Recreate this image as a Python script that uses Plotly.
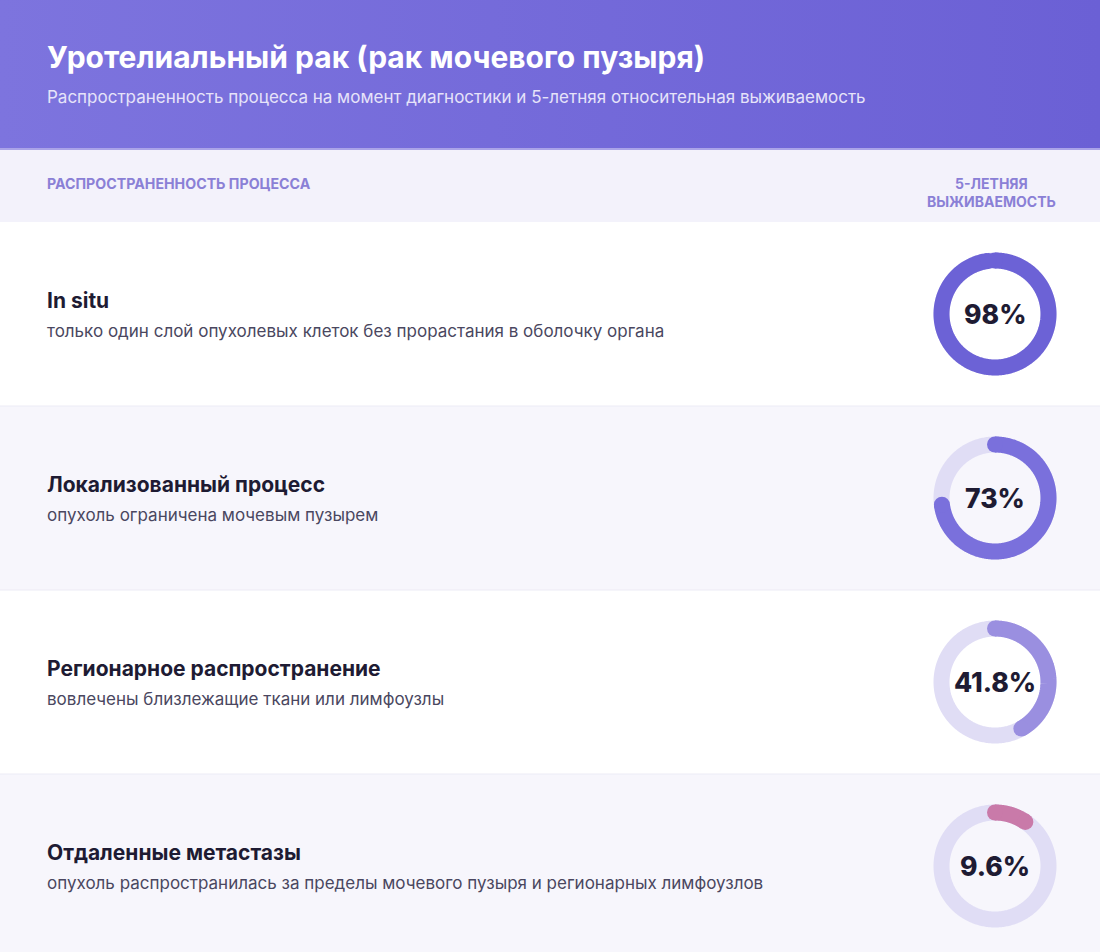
import numpy as np
import plotly.graph_objects as go

# ---- data ----
title = "Уротелиальный рак (рак мочевого пузыря)"
subtitle = "Распространенность процесса на момент диагностики и 5-летняя относительная выживаемость"
col_left = "РАСПРОСТРАНЕННОСТЬ ПРОЦЕССА"
col_right = "5-ЛЕТНЯЯ<br>ВЫЖИВАЕМОСТЬ"
stages = ["In situ", "Локализованный процесс", "Регионарное распространение", "Отдаленные метастазы"]
descriptions = [
    "только один слой опухолевых клеток без прорастания в оболочку органа",
    "опухоль ограничена мочевым пузырем",
    "вовлечены близлежащие ткани или лимфоузлы",
    "опухоль распространилась за пределы мочевого пузыря и регионарных лимфоузлов",
]
survival = [98, 73, 41.8, 9.6]
survival_labels = ["98%", "73%", "41.8%", "9.6%"]

# ---- style ----
W, H = 1100, 952
arc_colors = ["#6c62d6", "#7a70dc", "#9a8fe0", "#c97aa9"]
track_color = "#e0ddf5"
row_bg = ["#ffffff", "#f7f6fc"]
dark = "#1e1b33"
FONT = "Inter"
HEADER_H = 148
COLHDR_TOP, COLHDR_BOT = 150, 222
ROW_H = 184
CX = 995
R = 53.5
RING_W = 16
TX = 45

fig = go.Figure()

# header gradient
fig.add_trace(go.Scatter(
    x=[0, W, W, 0, 0], y=[0, 0, HEADER_H, HEADER_H, 0], mode="lines",
    line=dict(width=0), fill="toself",
    fillgradient=dict(type="horizontal", colorscale=[[0, "#7d74de"], [1, "#6b60d5"]]),
    hoverinfo="skip", showlegend=False))

shapes = []
shapes.append(dict(type="rect", x0=0, x1=W, y0=HEADER_H, y1=COLHDR_TOP, fillcolor="#aaa3e8", line_width=0, layer="below"))
shapes.append(dict(type="rect", x0=0, x1=W, y0=COLHDR_TOP, y1=COLHDR_BOT, fillcolor="#f3f2fb", line_width=0, layer="below"))
for i in range(len(stages)):
    top = COLHDR_BOT + i * ROW_H
    shapes.append(dict(type="rect", x0=0, x1=W, y0=top, y1=top + ROW_H,
                       fillcolor=row_bg[i % 2], line_width=0, layer="below"))
    if i > 0:
        shapes.append(dict(type="line", x0=0, x1=W, y0=top, y1=top, line=dict(color="#ecebf5", width=1), layer="below"))

ann = []
ann.append(dict(x=TX, y=57, text=title, showarrow=False, xanchor="left", yanchor="middle",
                font=dict(family=FONT, size=30, color="#ffffff", weight=700)))
ann.append(dict(x=TX, y=97, text=subtitle, showarrow=False, xanchor="left", yanchor="middle",
                font=dict(family=FONT, size=17, color="#e6e3f9")))
ann.append(dict(x=TX, y=183, text=col_left, showarrow=False, xanchor="left", yanchor="middle",
                font=dict(family=FONT, size=14.2, color="#8a80d6", weight=700)))
ann.append(dict(x=991, y=192, text=col_right, showarrow=False, xanchor="center", yanchor="middle",
                font=dict(family=FONT, size=14, color="#8a80d6", weight=700)))

for i, (stage, desc, val, lab) in enumerate(zip(stages, descriptions, survival, survival_labels)):
    top = COLHDR_BOT + i * ROW_H
    cy = top + ROW_H / 2
    ann.append(dict(x=TX, y=top + 78, text=stage, showarrow=False, xanchor="left", yanchor="middle",
                    font=dict(family=FONT, size=21, color=dark, weight=700)))
    ann.append(dict(x=TX, y=top + 109, text=desc, showarrow=False, xanchor="left", yanchor="middle",
                    font=dict(family=FONT, size=17, color="#4a4760")))
    ann.append(dict(x=CX, y=cy, text=lab, showarrow=False, xanchor="center", yanchor="middle",
                    font=dict(family=FONT, size=26.5, color=dark, weight=800)))
    # track
    t = np.linspace(0, 2 * np.pi, 361)
    fig.add_trace(go.Scatter(x=CX + R * np.sin(t), y=cy - R * np.cos(t), mode="lines",
                             line=dict(color=track_color, width=RING_W, simplify=False),
                             hoverinfo="skip", showlegend=False))
    # value arc (clockwise from 12 o'clock)
    a = np.linspace(0, 2 * np.pi * val / 100, 360)
    xs = CX + R * np.sin(a)
    ys = cy - R * np.cos(a)
    fig.add_trace(go.Scatter(x=xs, y=ys, mode="lines",
                             line=dict(color=arc_colors[i], width=RING_W, simplify=False),
                             hoverinfo="skip", showlegend=False))
    fig.add_trace(go.Scatter(x=[xs[0], xs[-1]], y=[ys[0], ys[-1]], mode="markers",
                             marker=dict(color=arc_colors[i], size=RING_W, line_width=0),
                             hoverinfo="skip", showlegend=False))

fig.update_layout(
    width=W, height=H, margin=dict(l=0, r=0, t=0, b=0),
    paper_bgcolor="#ffffff", plot_bgcolor="rgba(0,0,0,0)",
    xaxis=dict(range=[0, W], visible=False, fixedrange=True),
    yaxis=dict(range=[H, 0], visible=False, fixedrange=True),
    shapes=shapes, annotations=ann, showlegend=False,
)
fig.write_html("out.html")
